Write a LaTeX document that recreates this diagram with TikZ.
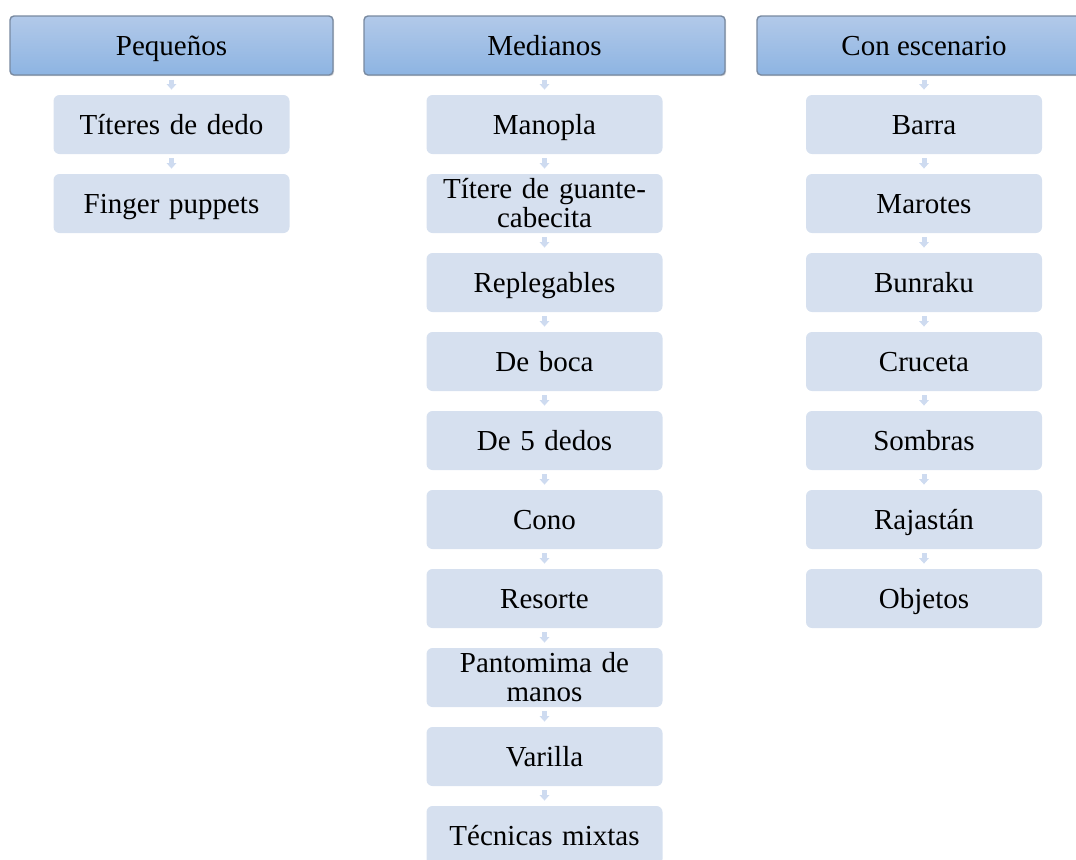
\documentclass[tikz,border=0pt]{standalone}
\usepackage{fontspec}
\setmainfont{Liberation Serif}
\usetikzlibrary{arrows.meta, shadows}

\definecolor{headtop}{RGB}{178,201,233}
\definecolor{headbot}{RGB}{141,180,226}
\definecolor{headline}{RGB}{120,137,160}
\definecolor{itemfill}{RGB}{214,224,239}
\definecolor{arrowfill}{RGB}{206,219,240}

\tikzset{
  head/.style={draw=headline, line width=0.7pt, rounded corners=2pt,
    top color=headtop, bottom color=headbot, minimum height=29.5pt,
    inner sep=0pt, text height=11.5pt, text depth=2pt,
    font=\fontsize{14.5}{14.5}\selectfont,
    drop shadow={shadow xshift=0.6pt, shadow yshift=-0.6pt, opacity=0.3}},
  item/.style={fill=itemfill, rounded corners=3pt, minimum width=118pt,
    minimum height=29.5pt, text width=112pt, align=center, inner sep=0pt,
    text height=11.5pt, text depth=2pt,
    font=\fontsize{14.5}{14.5}\selectfont},
  twolines/.style={text depth=17pt},
  oneline/.style={},
  flow/.style={draw=arrowfill, line width=2.5pt,
    -{Triangle[width=4.8pt,length=2.8pt]}, shorten <=2pt, shorten >=2.5pt}
}

\begin{document}
\begin{tikzpicture}[x=0.5pt, y=-0.5pt]
\useasboundingbox (0,0) rectangle (1076,859);

% headers
\node[head, minimum width=161.5pt] (h1) at (171.5,45.5) {Pequeños};
\node[head, minimum width=180.5pt] (h2) at (544.5,45.5) {Medianos};
\node[head, minimum width=167pt] (h3) at (924,45.5) {Con escenario};

% items of each column
\foreach \t [count=\i] in {Títeres de dedo, Finger puppets}
  \node[item] (p\i) at (171.5,45.5+79*\i) {\t};
\foreach \t/\s [count=\i] in {Manopla/oneline,
    {Títere de guante-\\cabecita}/twolines, Replegables/oneline,
    De boca/oneline, De 5 dedos/oneline, Cono/oneline, Resorte/oneline,
    {Pantomima de\\manos}/twolines, Varilla/oneline, Técnicas mixtas/oneline}
  \node[item, \s] (m\i) at (544.5,45.5+79*\i) {\t};
\foreach \t [count=\i] in {Barra, Marotes, Bunraku, Cruceta, Sombras,
    Rajastán, Objetos}
  \node[item] (c\i) at (924,45.5+79*\i) {\t};

% arrows
\draw[flow] (h1) -- (p1);
\draw[flow] (p1) -- (p2);
\draw[flow] (h2) -- (m1);
\foreach \i [remember=\i as \j (initially 1)] in {2,...,10}
  \draw[flow] (m\j) -- (m\i);
\draw[flow] (h3) -- (c1);
\foreach \i [remember=\i as \j (initially 1)] in {2,...,7}
  \draw[flow] (c\j) -- (c\i);

\end{tikzpicture}
\end{document}
